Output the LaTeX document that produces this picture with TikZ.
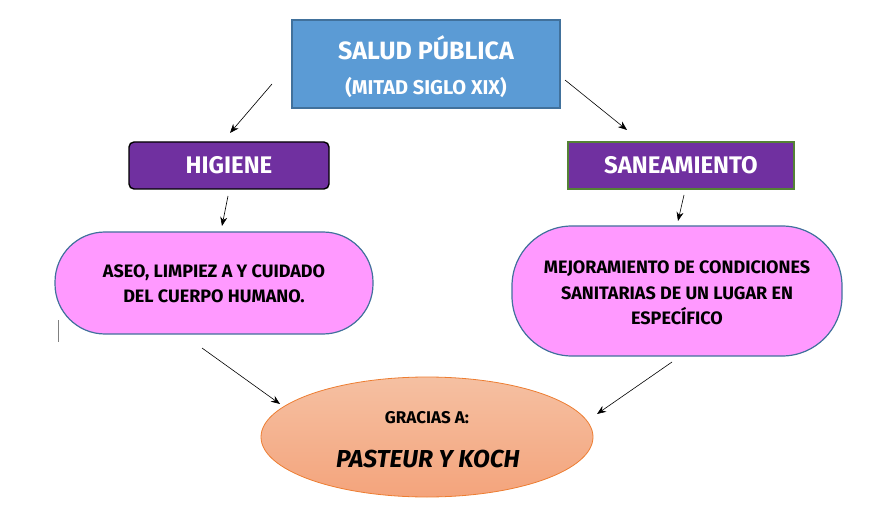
\documentclass[tikz,border=0pt]{standalone}
\usepackage{fontspec}
\setmainfont{Fira Sans}
\usetikzlibrary{arrows.meta,shapes.geometric}
\definecolor{topblue}{HTML}{5B9BD5}
\definecolor{edgeblue}{HTML}{41719C}
\definecolor{purp}{HTML}{7030A0}
\definecolor{greenedge}{HTML}{548235}
\definecolor{pink}{HTML}{FF99FF}
\definecolor{salmontop}{HTML}{F5C0A2}
\definecolor{salmonbot}{HTML}{F4A47C}
\definecolor{orangeedge}{HTML}{ED7D31}
\tikzset{
  arr/.style={draw=black, line width=0.6pt, -{Stealth[length=9pt,width=7pt]}},
  purpbox/.style={fill=purp, text=white, font=\fontsize{24}{28}\selectfont\bfseries, inner sep=0pt},
  pill/.style={fill=pink, draw=edgeblue, line width=1.2pt, rounded corners=50pt, inner sep=0pt},
  txt/.style={font=\fontsize{18}{25.5}\selectfont\bfseries, align=center, text=black}
}
\begin{document}
\begin{tikzpicture}[x=1pt,y=-1pt]
\useasboundingbox (0,0) rectangle (894,521);
% top box
\node[draw=edgeblue, fill=topblue, line width=1.2pt, minimum width=268pt, minimum height=88pt, inner sep=0pt] (top) at (426,64) {};
\node[text=white, font=\fontsize{25}{28}\selectfont\bfseries] (t1) at (426,48) {SALUD PÚBLICA};
\node[text=white, font=\fontsize{20}{24}\selectfont\bfseries] (t2) at (426,88) {(MITAD SIGLO XIX)};
% second level
\node[purpbox, draw=black, line width=1.4pt, rounded corners=5pt, minimum width=200pt, minimum height=47pt] (hig) at (229,165.5) {HIGIENE};
\node[purpbox, draw=greenedge, line width=1.4pt, minimum width=226pt, minimum height=47pt] (san) at (681,165.5) {SANEAMIENTO};
% pills
\node[pill, minimum width=318pt, minimum height=102pt] (pl) at (214,283) {};
\node[txt] (plt) at (214,284) {ASEO, LIMPIEZ A Y CUIDADO\\DEL CUERPO HUMANO.};
\node[pill, rounded corners=60pt, minimum width=330pt, minimum height=130pt] (pr) at (677,291) {};
\node[txt] (prt) at (677,293) {MEJORAMIENTO DE CONDICIONES\\SANITARIAS DE UN LUGAR EN\\ESPECÍFICO};
% ellipse
\node[ellipse, draw=orangeedge, line width=0.8pt, top color=salmontop, bottom color=salmonbot, minimum width=332pt, minimum height=120pt, inner sep=0pt] (el) at (427,437) {};
\node[font=\fontsize{17}{20}\selectfont\bfseries] (g1) at (427,418) {GRACIAS A:};
\node[font=\fontsize{24.5}{28}\selectfont\bfseries\itshape] (g2) at (428,459) {PASTEUR Y KOCH};
% cursor mark
\coordinate (c1) at (58,320);
\coordinate (c2) at (58,342);
\draw[gray, line width=1pt] (c1) -- (c2);
% arrows
\coordinate (a1s) at (272,84); \coordinate (a1e) at (230,133);
\coordinate (a2s) at (565,80); \coordinate (a2e) at (627,130);
\coordinate (a3s) at (228,196); \coordinate (a3e) at (222,226);
\coordinate (a4s) at (684,195); \coordinate (a4e) at (678,221);
\coordinate (a5s) at (202,348); \coordinate (a5e) at (280,404);
\coordinate (a6s) at (672,362); \coordinate (a6e) at (597,414);
\draw[arr] (a1s) -- (a1e);
\draw[arr] (a2s) -- (a2e);
\draw[arr] (a3s) -- (a3e);
\draw[arr] (a4s) -- (a4e);
\draw[arr] (a5s) -- (a5e);
\draw[arr] (a6s) -- (a6e);
\end{tikzpicture}
\end{document}
